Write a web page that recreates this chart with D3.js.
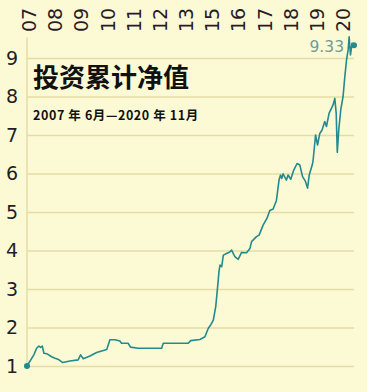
<!DOCTYPE html>
<html>
<head>
<meta charset="utf-8">
<script src="https://cdn.jsdelivr.net/npm/d3@7/dist/d3.min.js"></script>
<style>
  html, body { margin: 0; padding: 0; background: #fcfad5; }
  svg { display: block; }
</style>
</head>
<body>
<svg id="chart" width="367" height="392"></svg>
<script>
// ---- data ----
const yearLabels = ["07","08","09","10","11","12","13","15","16","17","18","19","20"];
const yTicks = [1,2,3,4,5,6,7,8,9];
const dates = [
  "2007-06-01","2007-09-12","2007-10-23","2007-11-27","2007-12-22","2008-01-16","2008-02-10","2008-03-22",
  "2008-06-05","2008-07-26","2008-09-14","2008-11-18","2009-03-07","2009-07-08","2009-08-13","2009-09-22",
  "2010-01-01","2010-04-11","2010-06-26","2010-09-10","2010-10-27","2011-01-10","2011-03-26","2011-04-20",
  "2011-07-27","2011-09-01","2011-12-23","2012-12-11","2013-01-05","2014-01-14","2014-02-20","2014-07-09",
  "2014-09-22","2014-11-12","2014-12-22","2015-01-26","2015-03-03","2015-03-27","2015-04-21","2015-05-06",
  "2015-06-01","2015-06-25","2015-08-13","2015-10-01","2015-10-27","2015-12-15","2016-02-03","2016-03-25",
  "2016-06-08","2016-07-28","2016-08-22","2016-11-04","2016-12-13","2017-02-11","2017-04-11","2017-05-22",
  "2017-07-11","2017-08-30","2017-10-08","2017-10-30","2017-11-18","2017-12-07","2018-01-27","2018-02-21",
  "2018-04-02","2018-05-17","2018-07-06","2018-08-16","2018-09-26","2018-11-07","2018-12-10","2019-01-04",
  "2019-02-24","2019-03-06","2019-04-09","2019-05-09","2019-06-12","2019-07-16","2019-08-25","2019-09-20",
  "2019-10-29","2019-12-03","2019-12-28","2020-01-23","2020-02-13","2020-02-29","2020-03-22","2020-04-21",
  "2020-05-26","2020-06-21","2020-07-17","2020-08-10","2020-08-25","2020-09-14","2020-10-08","2020-11-06"
];
const values = [
  1.00,1.29,1.46,1.52,1.48,1.52,1.33,1.32,
  1.24,1.20,1.17,1.09,1.13,1.16,1.29,1.19,
  1.26,1.35,1.39,1.43,1.68,1.68,1.65,1.59,
  1.59,1.49,1.46,1.46,1.59,1.59,1.66,1.69,
  1.76,1.98,2.08,2.19,2.54,2.97,3.45,3.62,
  3.58,3.88,3.92,3.96,4.01,3.84,3.77,3.95,
  3.94,4.05,4.23,4.36,4.40,4.66,4.84,5.04,
  5.08,5.30,5.83,5.96,5.87,5.99,5.83,5.96,
  5.85,6.09,6.26,6.22,5.92,5.80,5.62,5.96,
  6.26,6.39,7.00,6.74,7.04,7.13,7.35,7.22,
  7.56,7.69,7.78,7.95,7.56,6.55,7.13,7.65,
  8.00,8.51,8.95,9.21,9.55,9.08,9.38,9.33
];
const title = "投资累计净值";
const subtitle = "2007 年 6月—2020 年 11月";
const endLabel = "9.33";

// ---- chart ----
const svg = d3.select("#chart");
const W = 367, H = 392;
const bg = "#fcfad5", gridColor = "#e4dca6", lineColor = "#238a8e";

svg.append("rect").attr("width", W).attr("height", H).attr("fill", bg);

const parse = d3.timeParse("%Y-%m-%d");
const data = dates.map((d, i) => ({ date: parse(d), value: values[i] }));

const x = d3.scaleTime().domain(d3.extent(data, d => d.date)).range([27, 354]);
const y = d3.scaleLinear().domain([1, 9.5]).range([366, 38.75]);
const xl = d3.scalePoint().domain(yearLabels).range([29, 343]);

// gridlines + y labels
const yAxis = svg.append("g")
  .attr("transform", "translate(27,0)")
  .call(d3.axisLeft(y).tickValues(yTicks).tickSize(-(354 - 27)).tickPadding(9).tickFormat(d3.format("d")));
yAxis.select(".domain").remove();
yAxis.selectAll(".tick line").attr("stroke", gridColor).attr("stroke-width", 1.5);
yAxis.selectAll(".tick text")
  .attr("fill", "#1e1e2a")
  .style("font-family", "DejaVu Sans, sans-serif")
  .style("font-size", "19px");

// vertical axis line
svg.append("line")
  .attr("x1", 27).attr("x2", 27)
  .attr("y1", y(9.53)).attr("y2", y(1))
  .attr("stroke", gridColor).attr("stroke-width", 1.5);

// top year labels
const xAxis = svg.append("g")
  .attr("transform", "translate(0,32)")
  .call(d3.axisTop(xl).tickSize(0).tickPadding(0));
xAxis.select(".domain").remove();
xAxis.selectAll(".tick text")
  .attr("transform", "rotate(-90)")
  .attr("x", 0).attr("y", 0).attr("dy", "0.35em")
  .attr("text-anchor", "start")
  .attr("fill", "#2a1a28")
  .style("font-family", "DejaVu Sans, sans-serif")
  .style("font-size", "19px");

// line
const line = d3.line().x(d => x(d.date)).y(d => y(d.value));
svg.append("path").datum(data)
  .attr("d", line)
  .attr("fill", "none")
  .attr("stroke", lineColor)
  .attr("stroke-width", 1.6)
  .attr("stroke-linejoin", "round");

// end dots
[data[0], data[data.length - 1]].forEach(d => {
  svg.append("circle").attr("cx", x(d.date)).attr("cy", y(d.value)).attr("r", 3).attr("fill", lineColor);
});

// end label
svg.append("text")
  .attr("x", 344).attr("y", 52)
  .attr("text-anchor", "end")
  .attr("fill", "#6e9c99")
  .style("font-family", "DejaVu Sans, sans-serif")
  .style("font-size", "15.5px")
  .text(endLabel);

// title & subtitle
svg.append("text")
  .attr("x", 33).attr("y", 87)
  .attr("fill", "#111")
  .style("font-family", "'Noto Sans CJK SC', sans-serif")
  .style("font-weight", "bold")
  .style("font-size", "26px")
  .text(title);

svg.append("text")
  .attr("x", 33).attr("y", 120)
  .attr("fill", "#111")
  .style("font-family", "'Noto Sans CJK SC', sans-serif")
  .style("font-weight", "bold")
  .style("font-size", "12.5px")
  .style("letter-spacing", "0.6px")
  .text(subtitle);
</script>
</body>
</html>
